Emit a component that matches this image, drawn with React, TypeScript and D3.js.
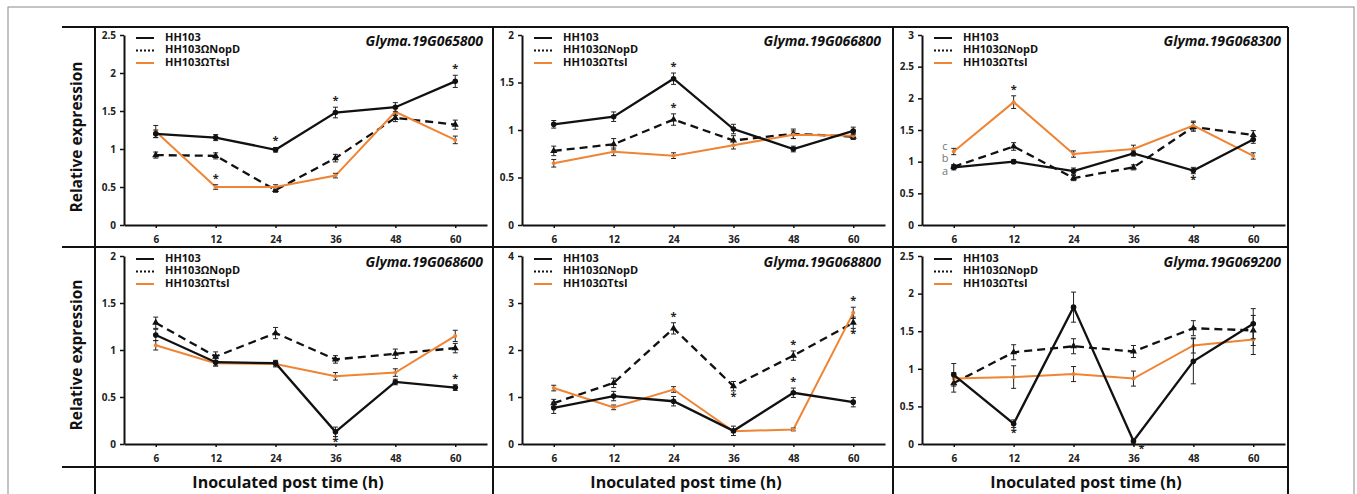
import { useEffect, useRef } from "react";
import * as d3 from "d3";

const times = ["6", "12", "24", "36", "48", "60"];
const genes = [
  "Glyma.19G065800",
  "Glyma.19G066800",
  "Glyma.19G068300",
  "Glyma.19G068600",
  "Glyma.19G068800",
  "Glyma.19G069200",
];
const seriesNames = ["HH103", "HH103ΩNopD", "HH103ΩTtsI"];
const yMax = [2.5, 2, 3, 2, 4, 2.5];
const yStep = [0.5, 0.5, 0.5, 0.5, 1, 0.5];

// mean values per panel
const hh103 = [
  [1.2, 1.15, 0.99, 1.48, 1.55, 1.89],
  [1.06, 1.14, 1.54, 1.01, 0.8, 0.99],
  [0.91, 1.0, 0.85, 1.13, 0.86, 1.35],
  [1.16, 0.87, 0.86, 0.13, 0.66, 0.6],
  [0.77, 1.02, 0.91, 0.28, 1.09, 0.89],
  [0.92, 0.27, 1.82, 0.04, 1.1, 1.6],
];
const nopd = [
  [0.92, 0.91, 0.46, 0.88, 1.41, 1.32],
  [0.78, 0.85, 1.11, 0.89, 0.96, 0.93],
  [0.92, 1.24, 0.74, 0.91, 1.55, 1.42],
  [1.29, 0.93, 1.18, 0.9, 0.96, 1.02],
  [0.87, 1.3, 2.46, 1.23, 1.88, 2.58],
  [0.81, 1.22, 1.3, 1.23, 1.54, 1.51],
];
const ttsi = [
  [1.23, 0.5, 0.5, 0.65, 1.49, 1.12],
  [0.65, 0.77, 0.73, 0.84, 0.95, 0.94],
  [1.16, 1.94, 1.12, 1.2, 1.57, 1.09],
  [1.05, 0.86, 0.85, 0.72, 0.76, 1.15],
  [1.19, 0.78, 1.16, 0.27, 0.31, 2.79],
  [0.87, 0.89, 0.93, 0.87, 1.31, 1.39],
];

// error bars
const hh103Err = [
  [0.05, 0.04, 0.03, 0.07, 0.06, 0.08],
  [0.04, 0.05, 0.06, 0.05, 0.03, 0.04],
  [0.04, 0.03, 0.05, 0.04, 0.05, 0.06],
  [0.06, 0.04, 0.03, 0.05, 0.03, 0.03],
  [0.12, 0.1, 0.1, 0.1, 0.1, 0.1],
  [0.15, 0.05, 0.2, 0.03, 0.3, 0.2],
];
const nopdErr = [
  [0.04, 0.04, 0.03, 0.05, 0.05, 0.06],
  [0.05, 0.06, 0.06, 0.05, 0.05, 0.03],
  [0.03, 0.06, 0.04, 0.04, 0.07, 0.07],
  [0.06, 0.05, 0.06, 0.04, 0.05, 0.05],
  [0.08, 0.1, 0.12, 0.1, 0.1, 0.12],
  [0.12, 0.1, 0.1, 0.08, 0.1, 0.2],
];
const ttsiErr = [
  [0.08, 0.03, 0.03, 0.03, 0.05, 0.05],
  [0.04, 0.04, 0.03, 0.04, 0.04, 0.03],
  [0.05, 0.1, 0.05, 0.06, 0.07, 0.05],
  [0.05, 0.03, 0.03, 0.04, 0.04, 0.06],
  [0.06, 0.05, 0.06, 0.03, 0.03, 0.12],
  [0.08, 0.15, 0.1, 0.1, 0.1, 0.2],
];

// significance marks: [panel, series, time index, side]
const stars: [number, number, number, string][] = [
  [0, 0, 2, "up"], [0, 0, 3, "up"], [0, 0, 5, "up"], [0, 2, 1, "up"],
  [1, 0, 2, "up"], [1, 1, 2, "up"],
  [2, 2, 1, "up"], [2, 0, 4, "down"],
  [3, 0, 3, "down"], [3, 0, 5, "up"],
  [4, 1, 2, "up"], [4, 1, 3, "down"], [4, 1, 4, "up"], [4, 0, 4, "up"],
  [4, 2, 5, "up"], [4, 1, 5, "down"],
  [5, 0, 1, "down"], [5, 0, 3, "down"],
];
const groupLetters = ["c", "b", "a"];

const App = () => {
  const ref = useRef<SVGSVGElement>(null);

  useEffect(() => {
    const svg = d3.select(ref.current);
    svg.selectAll("*").remove();
    const font = "'Open Sans', 'DejaVu Sans', sans-serif";
    const orange = "#ee8434";
    const colors = ["#111", "#111", orange];

    // outer frame + table grid
    svg.append("rect")
      .attr("x", 8).attr("y", 7).attr("width", 1346).attr("height", 500)
      .attr("fill", "none").attr("stroke", "#8a8a8a").attr("stroke-width", 1);
    const cellX = [95, 493, 893, 1288];
    [27, 247, 467].forEach((y) => {
      svg.append("line").attr("x1", 62).attr("x2", 1288).attr("y1", y).attr("y2", y)
        .attr("stroke", "#111").attr("stroke-width", 2);
    });
    cellX.forEach((x) => {
      svg.append("line").attr("x1", x).attr("x2", x).attr("y1", 27).attr("y2", 494)
        .attr("stroke", "#111").attr("stroke-width", 2);
    });
    [137, 355].forEach((cy) => {
      svg.append("text")
        .attr("transform", `translate(78,${cy}) rotate(-90)`)
        .attr("text-anchor", "middle").attr("dominant-baseline", "middle")
        .style("font-family", font).style("font-weight", "bold").style("font-size", "15.5px")
        .attr("fill", "#111")
        .text("Relative expression");
    });
    [0, 1, 2].forEach((c) => {
      svg.append("text")
        .attr("x", cellX[c] + 193).attr("y", 488)
        .attr("text-anchor", "middle")
        .style("font-family", font).style("font-weight", "bold").style("font-size", "16px")
        .attr("fill", "#111")
        .text("Inoculated post time (h)");
    });

    const rowY0 = [225, 444];
    const rowTop = [35, 256];

    genes.forEach((gene, p) => {
      const c = p % 3;
      const r = Math.floor(p / 3);
      const axisX = cellX[c] + 29;
      const xEnd = cellX[c] + 392;
      const x = d3.scalePoint().domain(times).range([axisX, xEnd]).padding(0.53);
      const y = d3.scaleLinear().domain([0, yMax[p]]).range([rowY0[r], rowTop[r]]);
      const g = svg.append("g");

      const xa = g.append("g")
        .attr("transform", `translate(0,${rowY0[r]})`)
        .call(d3.axisBottom(x).tickSize(3).tickSizeOuter(0).tickPadding(8));
      const ya = g.append("g")
        .attr("transform", `translate(${axisX},0)`)
        .call(d3.axisLeft(y)
          .tickValues(d3.range(0, yMax[p] + 0.001, yStep[p]))
          .tickFormat((d) => String(d))
          .tickSize(4).tickSizeOuter(0).tickPadding(4));
      [xa, ya].forEach((a) => {
        a.select(".domain").attr("stroke", "#111").attr("stroke-width", 2);
        a.selectAll(".tick line").attr("stroke", "#111").attr("stroke-width", 1.5);
        a.selectAll(".tick text")
          .style("font-family", font).style("font-weight", "bold").style("font-size", "10px")
          .attr("fill", "#222");
      });

      // gene name
      g.append("text")
        .attr("x", xEnd - 4).attr("y", rowTop[r] + 11)
        .attr("text-anchor", "end")
        .style("font-family", font).style("font-weight", "bold").style("font-style", "italic")
        .style("font-size", "14px").attr("fill", "#111")
        .text(gene);

      // legend
      seriesNames.forEach((name, i) => {
        const ly = rowTop[r] + 3 + i * 12.5;
        g.append("line")
          .attr("x1", axisX + 12).attr("x2", axisX + 30).attr("y1", ly).attr("y2", ly)
          .attr("stroke", colors[i]).attr("stroke-width", 2)
          .attr("stroke-dasharray", i === 1 ? "2,2" : null);
        g.append("text")
          .attr("x", axisX + 41).attr("y", ly).attr("dominant-baseline", "middle")
          .style("font-family", font).style("font-weight", "bold").style("font-size", "11px")
          .attr("fill", "#111")
          .text(name);
      });

      const vals = [hh103[p], nopd[p], ttsi[p]];
      const errs = [hh103Err[p], nopdErr[p], ttsiErr[p]];
      // draw NopD first, then TtsI, then HH103 on top
      [1, 2, 0].forEach((s) => {
        const data = vals[s].map((v, i) => ({ t: times[i], v, e: errs[s][i] }));
        g.append("path")
          .datum(data)
          .attr("fill", "none")
          .attr("stroke", colors[s])
          .attr("stroke-width", s === 2 ? 2 : 2.3)
          .attr("stroke-dasharray", s === 1 ? "8,5" : null)
          .attr("d", d3.line<any>().x((d) => x(d.t)!).y((d) => y(d.v)));
        const eb = g.append("g");
        data.forEach((d) => {
          const cx = x(d.t)!;
          const y1 = y(d.v + d.e);
          const y2 = y(Math.max(0, d.v - d.e));
          eb.append("line").attr("x1", cx).attr("x2", cx).attr("y1", y1).attr("y2", y2)
            .attr("stroke", "#222").attr("stroke-width", 1);
          [y1, y2].forEach((yy) => {
            eb.append("line").attr("x1", cx - 2.5).attr("x2", cx + 2.5).attr("y1", yy).attr("y2", yy)
              .attr("stroke", "#222").attr("stroke-width", 1);
          });
        });
        if (s === 1) {
          g.append("g").selectAll("path").data(data).enter().append("path")
            .attr("d", d3.symbol().type(d3.symbolTriangle).size(22)())
            .attr("transform", (d) => `translate(${x(d.t)},${y(d.v)})`)
            .attr("fill", "#111");
        } else {
          g.append("g").selectAll("circle").data(data).enter().append("circle")
            .attr("cx", (d) => x(d.t)!)
            .attr("cy", (d) => y(d.v))
            .attr("r", s === 0 ? 2.8 : 2)
            .attr("fill", colors[s]);
        }
      });

      // asterisks
      stars.filter((st) => st[0] === p).forEach(([, s, i, side]) => {
        const v = vals[s][i];
        const e = errs[s][i];
        const sy = side === "up" ? y(v + e) - 3 : y(Math.max(0, v - e)) + 9;
        const sx = p === 5 && i === 3 ? x(times[i])! + 8 : x(times[i])!;
        g.append("text")
          .attr("x", sx).attr("y", sy)
          .attr("text-anchor", "middle")
          .style("font-family", font).style("font-weight", "bold").style("font-size", "11px")
          .attr("fill", "#222")
          .text("*");
      });

      if (p === 2) {
        groupLetters.forEach((l, i) => {
          g.append("text")
            .attr("x", axisX + 23).attr("y", 147 + i * 12.5)
            .attr("text-anchor", "middle").attr("dominant-baseline", "middle")
            .style("font-family", font).style("font-size", "11px")
            .attr("fill", "#777")
            .text(l);
        });
      }
    });
  }, []);

  return (
    <svg
      ref={ref}
      width={1357}
      height={494}
      style={{ position: "absolute", left: 0, top: 0, background: "#fff" }}
    />
  );
};

export default App;
